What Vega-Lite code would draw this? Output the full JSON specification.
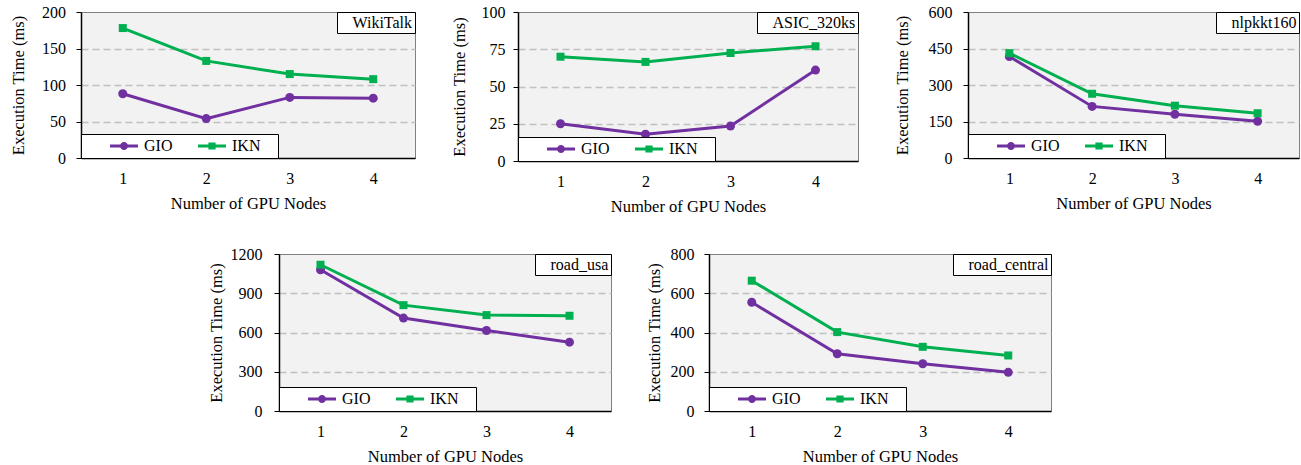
{
  "$schema": "https://vega.github.io/schema/vega-lite/v6.json",
  "padding": {"left": 10, "top": 3, "right": 0, "bottom": 0},
  "background": "white",
  "config": {
    "font": "Liberation Serif",
    "view": {"fill": "#f2f2f2", "stroke": "#808080", "strokeWidth": 1},
    "axis": {"labelFont": "Liberation Serif", "labelFontSize": 16, "labelColor": "black", "titleFont": "Liberation Serif", "titleFontSize": 16.5, "titleFontWeight": "normal", "titleColor": "black", "domainColor": "black", "domainWidth": 1.5},
    "axisY": {"tickColor": "black", "tickSize": 5, "tickWidth": 1, "labelPadding": 6, "titlePadding": 14, "gridColor": "#c0c0c0", "gridDash": [7, 4], "gridWidth": 1.3, "format": "d"},
    "axisX": {"ticks": false, "labelPadding": 12, "titlePadding": 9, "grid": false, "labelAngle": 0},
    "legend": {"labelFont": "Liberation Serif", "labelFontSize": 16, "labelColor": "black", "fillColor": "white", "strokeColor": "black", "offset": 0}
  },
  "data": {"values": [
    {"panel": "WikiTalk", "series": "GIO", "nodes": 1, "time": 88},
    {"panel": "WikiTalk", "series": "GIO", "nodes": 2, "time": 54},
    {"panel": "WikiTalk", "series": "GIO", "nodes": 3, "time": 83},
    {"panel": "WikiTalk", "series": "GIO", "nodes": 4, "time": 82},
    {"panel": "WikiTalk", "series": "IKN", "nodes": 1, "time": 178},
    {"panel": "WikiTalk", "series": "IKN", "nodes": 2, "time": 133},
    {"panel": "WikiTalk", "series": "IKN", "nodes": 3, "time": 115},
    {"panel": "WikiTalk", "series": "IKN", "nodes": 4, "time": 108},
    {"panel": "ASIC_320ks", "series": "GIO", "nodes": 1, "time": 25},
    {"panel": "ASIC_320ks", "series": "GIO", "nodes": 2, "time": 18},
    {"panel": "ASIC_320ks", "series": "GIO", "nodes": 3, "time": 23.5},
    {"panel": "ASIC_320ks", "series": "GIO", "nodes": 4, "time": 61},
    {"panel": "ASIC_320ks", "series": "IKN", "nodes": 1, "time": 70},
    {"panel": "ASIC_320ks", "series": "IKN", "nodes": 2, "time": 66.5},
    {"panel": "ASIC_320ks", "series": "IKN", "nodes": 3, "time": 72.5},
    {"panel": "ASIC_320ks", "series": "IKN", "nodes": 4, "time": 77},
    {"panel": "nlpkkt160", "series": "GIO", "nodes": 1, "time": 417},
    {"panel": "nlpkkt160", "series": "GIO", "nodes": 2, "time": 212},
    {"panel": "nlpkkt160", "series": "GIO", "nodes": 3, "time": 180},
    {"panel": "nlpkkt160", "series": "GIO", "nodes": 4, "time": 151},
    {"panel": "nlpkkt160", "series": "IKN", "nodes": 1, "time": 431},
    {"panel": "nlpkkt160", "series": "IKN", "nodes": 2, "time": 264},
    {"panel": "nlpkkt160", "series": "IKN", "nodes": 3, "time": 215},
    {"panel": "nlpkkt160", "series": "IKN", "nodes": 4, "time": 184},
    {"panel": "road_usa", "series": "GIO", "nodes": 1, "time": 1080},
    {"panel": "road_usa", "series": "GIO", "nodes": 2, "time": 710},
    {"panel": "road_usa", "series": "GIO", "nodes": 3, "time": 615},
    {"panel": "road_usa", "series": "GIO", "nodes": 4, "time": 526},
    {"panel": "road_usa", "series": "IKN", "nodes": 1, "time": 1118},
    {"panel": "road_usa", "series": "IKN", "nodes": 2, "time": 809},
    {"panel": "road_usa", "series": "IKN", "nodes": 3, "time": 733},
    {"panel": "road_usa", "series": "IKN", "nodes": 4, "time": 728},
    {"panel": "road_central", "series": "GIO", "nodes": 1, "time": 554},
    {"panel": "road_central", "series": "GIO", "nodes": 2, "time": 292},
    {"panel": "road_central", "series": "GIO", "nodes": 3, "time": 241},
    {"panel": "road_central", "series": "GIO", "nodes": 4, "time": 197},
    {"panel": "road_central", "series": "IKN", "nodes": 1, "time": 664},
    {"panel": "road_central", "series": "IKN", "nodes": 2, "time": 402},
    {"panel": "road_central", "series": "IKN", "nodes": 3, "time": 327},
    {"panel": "road_central", "series": "IKN", "nodes": 4, "time": 283}
  ]},
  "spacing": 30,
  "resolve": {"scale": {"color": "independent", "fill": "independent", "shape": "independent", "strokeDash": "independent"}, "legend": {"color": "independent", "fill": "independent", "shape": "independent", "strokeDash": "independent"}},
  "vconcat": [
    {
      "spacing": 35,
      "align": "none",
      "resolve": {"scale": {"color": "independent", "fill": "independent", "shape": "independent", "strokeDash": "independent"}, "legend": {"color": "independent", "fill": "independent", "shape": "independent", "strokeDash": "independent"}},
      "hconcat": [
        {
          "width": 334, "height": 146,
          "transform": [{"filter": "datum.panel == 'WikiTalk'"}],
          "encoding": {
            "x": {"field": "nodes", "type": "ordinal", "scale": {"type": "point", "padding": 0.5}, "title": "Number of GPU Nodes"},
            "y": {"field": "time", "type": "quantitative", "scale": {"domain": [0, 200], "nice": false}, "title": "Execution Time (ms)",
                  "axis": {"values": [0, 50, 100, 150, 200], "titlePadding": 15, "labelPadding": 10.5, "gridOpacity": {"condition": {"test": "datum.value == 0 || datum.value == 200", "value": 0}, "value": 1}}}
          },
          "layer": [
            {"mark": {"type": "line", "strokeWidth": 3}, "encoding": {"color": {"field": "series", "type": "nominal", "scale": {"range": ["#7030A0", "#00B050"]}, "legend": null}}},
            {"transform": [{"filter": "datum.series == 'GIO'"}], "mark": {"type": "point", "shape": "circle", "filled": true, "size": 81, "opacity": 1}, "encoding": {"color": {"field": "series", "type": "nominal", "legend": null}}},
            {"transform": [{"filter": "datum.series == 'IKN'"}], "mark": {"type": "point", "shape": "square", "filled": true, "size": 64, "opacity": 1}, "encoding": {"color": {"field": "series", "type": "nominal", "legend": null}}},
            {"mark": {"type": "point", "filled": true, "opacity": 0},
             "encoding": {
               "fill": {"field": "series", "type": "nominal", "scale": {"domain": ["GIO", "IKN"], "range": ["#7030A0", "#00B050"]},
                        "legend": {"orient": "bottom-left", "direction": "horizontal", "title": " ", "titleOrient": "right", "titlePadding": 14, "padding": 4, "symbolSize": 256, "symbolStrokeWidth": 0, "symbolOpacity": 1, "symbolOffset": 31, "labelOffset": 12, "columnPadding": 0}},
               "shape": {"field": "series", "type": "nominal", "scale": {"domain": ["GIO", "IKN"], "range": ["M-1.75,-0.19H-0.45V0.19H-1.75Z M0.45,-0.19H1.75V0.19H0.45Z M0.5,0A0.5,0.5 0 1,1 -0.5,0A0.5,0.5 0 1,1 0.5,0Z", "M-1.75,-0.19H-0.45V0.19H-1.75Z M0.45,-0.19H1.75V0.19H0.45Z M-0.45,-0.45H0.45V0.45H-0.45Z"]},
                        "legend": {"orient": "bottom-left", "direction": "horizontal", "title": " ", "titleOrient": "right", "titlePadding": 14, "padding": 4, "symbolSize": 256, "symbolStrokeWidth": 0, "symbolOpacity": 1, "symbolOffset": 31, "labelOffset": 12, "columnPadding": 0}},
               "strokeDash": {"field": "panel", "type": "nominal", "legend": {"orient": "top-right", "title": null, "padding": 2.5, "symbolSize": 0, "symbolStrokeWidth": 0, "symbolOpacity": 0, "labelOffset": -3}}
             }}
          ]
        },
        {
          "width": 340, "height": 149,
          "transform": [{"filter": "datum.panel == 'ASIC_320ks'"}],
          "encoding": {
            "x": {"field": "nodes", "type": "ordinal", "scale": {"type": "point", "padding": 0.5}, "title": "Number of GPU Nodes"},
            "y": {"field": "time", "type": "quantitative", "scale": {"domain": [0, 100], "nice": false}, "title": "Execution Time (ms)",
                  "axis": {"values": [0, 25, 50, 75, 100], "titlePadding": 13.5, "labelPadding": 8, "gridOpacity": {"condition": {"test": "datum.value == 0 || datum.value == 100", "value": 0}, "value": 1}}}
          },
          "layer": [
            {"mark": {"type": "line", "strokeWidth": 3}, "encoding": {"color": {"field": "series", "type": "nominal", "scale": {"range": ["#7030A0", "#00B050"]}, "legend": null}}},
            {"transform": [{"filter": "datum.series == 'GIO'"}], "mark": {"type": "point", "shape": "circle", "filled": true, "size": 81, "opacity": 1}, "encoding": {"color": {"field": "series", "type": "nominal", "legend": null}}},
            {"transform": [{"filter": "datum.series == 'IKN'"}], "mark": {"type": "point", "shape": "square", "filled": true, "size": 64, "opacity": 1}, "encoding": {"color": {"field": "series", "type": "nominal", "legend": null}}},
            {"mark": {"type": "point", "filled": true, "opacity": 0},
             "encoding": {
               "fill": {"field": "series", "type": "nominal", "scale": {"domain": ["GIO", "IKN"], "range": ["#7030A0", "#00B050"]},
                        "legend": {"orient": "bottom-left", "direction": "horizontal", "title": " ", "titleOrient": "right", "titlePadding": 14, "padding": 4, "symbolSize": 256, "symbolStrokeWidth": 0, "symbolOpacity": 1, "symbolOffset": 31, "labelOffset": 12, "columnPadding": 0}},
               "shape": {"field": "series", "type": "nominal", "scale": {"domain": ["GIO", "IKN"], "range": ["M-1.75,-0.19H-0.45V0.19H-1.75Z M0.45,-0.19H1.75V0.19H0.45Z M0.5,0A0.5,0.5 0 1,1 -0.5,0A0.5,0.5 0 1,1 0.5,0Z", "M-1.75,-0.19H-0.45V0.19H-1.75Z M0.45,-0.19H1.75V0.19H0.45Z M-0.45,-0.45H0.45V0.45H-0.45Z"]},
                        "legend": {"orient": "bottom-left", "direction": "horizontal", "title": " ", "titleOrient": "right", "titlePadding": 14, "padding": 4, "symbolSize": 256, "symbolStrokeWidth": 0, "symbolOpacity": 1, "symbolOffset": 31, "labelOffset": 12, "columnPadding": 0}},
               "strokeDash": {"field": "panel", "type": "nominal", "legend": {"orient": "top-right", "title": null, "padding": 2.5, "symbolSize": 0, "symbolStrokeWidth": 0, "symbolOpacity": 0, "labelOffset": -3}}
             }}
          ]
        },
        {
          "width": 331, "height": 146,
          "transform": [{"filter": "datum.panel == 'nlpkkt160'"}],
          "encoding": {
            "x": {"field": "nodes", "type": "ordinal", "scale": {"type": "point", "padding": 0.5}, "title": "Number of GPU Nodes"},
            "y": {"field": "time", "type": "quantitative", "scale": {"domain": [0, 600], "nice": false}, "title": "Execution Time (ms)",
                  "axis": {"values": [0, 150, 300, 450, 600], "titlePadding": 17.5, "labelPadding": 11, "gridOpacity": {"condition": {"test": "datum.value == 0 || datum.value == 600", "value": 0}, "value": 1}}}
          },
          "layer": [
            {"mark": {"type": "line", "strokeWidth": 3}, "encoding": {"color": {"field": "series", "type": "nominal", "scale": {"range": ["#7030A0", "#00B050"]}, "legend": null}}},
            {"transform": [{"filter": "datum.series == 'GIO'"}], "mark": {"type": "point", "shape": "circle", "filled": true, "size": 81, "opacity": 1}, "encoding": {"color": {"field": "series", "type": "nominal", "legend": null}}},
            {"transform": [{"filter": "datum.series == 'IKN'"}], "mark": {"type": "point", "shape": "square", "filled": true, "size": 64, "opacity": 1}, "encoding": {"color": {"field": "series", "type": "nominal", "legend": null}}},
            {"mark": {"type": "point", "filled": true, "opacity": 0},
             "encoding": {
               "fill": {"field": "series", "type": "nominal", "scale": {"domain": ["GIO", "IKN"], "range": ["#7030A0", "#00B050"]},
                        "legend": {"orient": "bottom-left", "direction": "horizontal", "title": " ", "titleOrient": "right", "titlePadding": 14, "padding": 4, "symbolSize": 256, "symbolStrokeWidth": 0, "symbolOpacity": 1, "symbolOffset": 31, "labelOffset": 12, "columnPadding": 0}},
               "shape": {"field": "series", "type": "nominal", "scale": {"domain": ["GIO", "IKN"], "range": ["M-1.75,-0.19H-0.45V0.19H-1.75Z M0.45,-0.19H1.75V0.19H0.45Z M0.5,0A0.5,0.5 0 1,1 -0.5,0A0.5,0.5 0 1,1 0.5,0Z", "M-1.75,-0.19H-0.45V0.19H-1.75Z M0.45,-0.19H1.75V0.19H0.45Z M-0.45,-0.45H0.45V0.45H-0.45Z"]},
                        "legend": {"orient": "bottom-left", "direction": "horizontal", "title": " ", "titleOrient": "right", "titlePadding": 14, "padding": 4, "symbolSize": 256, "symbolStrokeWidth": 0, "symbolOpacity": 1, "symbolOffset": 31, "labelOffset": 12, "columnPadding": 0}},
               "strokeDash": {"field": "panel", "type": "nominal", "legend": {"orient": "top-right", "title": null, "padding": 2.5, "symbolSize": 0, "symbolStrokeWidth": 0, "symbolOpacity": 0, "labelOffset": -3}}
             }}
          ]
        }
      ]
    },
    {
      "spacing": 33,
      "align": "none",
      "resolve": {"scale": {"color": "independent", "fill": "independent", "shape": "independent", "strokeDash": "independent"}, "legend": {"color": "independent", "fill": "independent", "shape": "independent", "strokeDash": "independent"}},
      "hconcat": [
        {"width": 93, "height": 10, "data": {"values": []}, "mark": "point", "encoding": {}, "view": {"stroke": null, "fill": null}},
        {
          "width": 332, "height": 157,
          "transform": [{"filter": "datum.panel == 'road_usa'"}],
          "encoding": {
            "x": {"field": "nodes", "type": "ordinal", "scale": {"type": "point", "padding": 0.5}, "title": "Number of GPU Nodes"},
            "y": {"field": "time", "type": "quantitative", "scale": {"domain": [0, 1200], "nice": false}, "title": "Execution Time (ms)",
                  "axis": {"values": [0, 300, 600, 900, 1200], "titlePadding": 6, "labelPadding": 12, "gridOpacity": {"condition": {"test": "datum.value == 0 || datum.value == 1200", "value": 0}, "value": 1}}}
          },
          "layer": [
            {"mark": {"type": "line", "strokeWidth": 3}, "encoding": {"color": {"field": "series", "type": "nominal", "scale": {"range": ["#7030A0", "#00B050"]}, "legend": null}}},
            {"transform": [{"filter": "datum.series == 'GIO'"}], "mark": {"type": "point", "shape": "circle", "filled": true, "size": 81, "opacity": 1}, "encoding": {"color": {"field": "series", "type": "nominal", "legend": null}}},
            {"transform": [{"filter": "datum.series == 'IKN'"}], "mark": {"type": "point", "shape": "square", "filled": true, "size": 64, "opacity": 1}, "encoding": {"color": {"field": "series", "type": "nominal", "legend": null}}},
            {"mark": {"type": "point", "filled": true, "opacity": 0},
             "encoding": {
               "fill": {"field": "series", "type": "nominal", "scale": {"domain": ["GIO", "IKN"], "range": ["#7030A0", "#00B050"]},
                        "legend": {"orient": "bottom-left", "direction": "horizontal", "title": " ", "titleOrient": "right", "titlePadding": 14, "padding": 4, "symbolSize": 256, "symbolStrokeWidth": 0, "symbolOpacity": 1, "symbolOffset": 31, "labelOffset": 12, "columnPadding": 0}},
               "shape": {"field": "series", "type": "nominal", "scale": {"domain": ["GIO", "IKN"], "range": ["M-1.75,-0.19H-0.45V0.19H-1.75Z M0.45,-0.19H1.75V0.19H0.45Z M0.5,0A0.5,0.5 0 1,1 -0.5,0A0.5,0.5 0 1,1 0.5,0Z", "M-1.75,-0.19H-0.45V0.19H-1.75Z M0.45,-0.19H1.75V0.19H0.45Z M-0.45,-0.45H0.45V0.45H-0.45Z"]},
                        "legend": {"orient": "bottom-left", "direction": "horizontal", "title": " ", "titleOrient": "right", "titlePadding": 14, "padding": 4, "symbolSize": 256, "symbolStrokeWidth": 0, "symbolOpacity": 1, "symbolOffset": 31, "labelOffset": 12, "columnPadding": 0}},
               "strokeDash": {"field": "panel", "type": "nominal", "legend": {"orient": "top-right", "title": null, "padding": 2.5, "symbolSize": 0, "symbolStrokeWidth": 0, "symbolOpacity": 0, "labelOffset": -3}}
             }}
          ]
        },
        {
          "width": 342, "height": 157,
          "transform": [{"filter": "datum.panel == 'road_central'"}],
          "encoding": {
            "x": {"field": "nodes", "type": "ordinal", "scale": {"type": "point", "padding": 0.5}, "title": "Number of GPU Nodes"},
            "y": {"field": "time", "type": "quantitative", "scale": {"domain": [0, 800], "nice": false}, "title": "Execution Time (ms)",
                  "axis": {"values": [0, 200, 400, 600, 800], "titlePadding": 8, "labelPadding": 10, "gridOpacity": {"condition": {"test": "datum.value == 0 || datum.value == 800", "value": 0}, "value": 1}}}
          },
          "layer": [
            {"mark": {"type": "line", "strokeWidth": 3}, "encoding": {"color": {"field": "series", "type": "nominal", "scale": {"range": ["#7030A0", "#00B050"]}, "legend": null}}},
            {"transform": [{"filter": "datum.series == 'GIO'"}], "mark": {"type": "point", "shape": "circle", "filled": true, "size": 81, "opacity": 1}, "encoding": {"color": {"field": "series", "type": "nominal", "legend": null}}},
            {"transform": [{"filter": "datum.series == 'IKN'"}], "mark": {"type": "point", "shape": "square", "filled": true, "size": 64, "opacity": 1}, "encoding": {"color": {"field": "series", "type": "nominal", "legend": null}}},
            {"mark": {"type": "point", "filled": true, "opacity": 0},
             "encoding": {
               "fill": {"field": "series", "type": "nominal", "scale": {"domain": ["GIO", "IKN"], "range": ["#7030A0", "#00B050"]},
                        "legend": {"orient": "bottom-left", "direction": "horizontal", "title": " ", "titleOrient": "right", "titlePadding": 14, "padding": 4, "symbolSize": 256, "symbolStrokeWidth": 0, "symbolOpacity": 1, "symbolOffset": 31, "labelOffset": 12, "columnPadding": 0}},
               "shape": {"field": "series", "type": "nominal", "scale": {"domain": ["GIO", "IKN"], "range": ["M-1.75,-0.19H-0.45V0.19H-1.75Z M0.45,-0.19H1.75V0.19H0.45Z M0.5,0A0.5,0.5 0 1,1 -0.5,0A0.5,0.5 0 1,1 0.5,0Z", "M-1.75,-0.19H-0.45V0.19H-1.75Z M0.45,-0.19H1.75V0.19H0.45Z M-0.45,-0.45H0.45V0.45H-0.45Z"]},
                        "legend": {"orient": "bottom-left", "direction": "horizontal", "title": " ", "titleOrient": "right", "titlePadding": 14, "padding": 4, "symbolSize": 256, "symbolStrokeWidth": 0, "symbolOpacity": 1, "symbolOffset": 31, "labelOffset": 12, "columnPadding": 0}},
               "strokeDash": {"field": "panel", "type": "nominal", "legend": {"orient": "top-right", "title": null, "padding": 2.5, "symbolSize": 0, "symbolStrokeWidth": 0, "symbolOpacity": 0, "labelOffset": -3}}
             }}
          ]
        }
      ]
    }
  ]
}
